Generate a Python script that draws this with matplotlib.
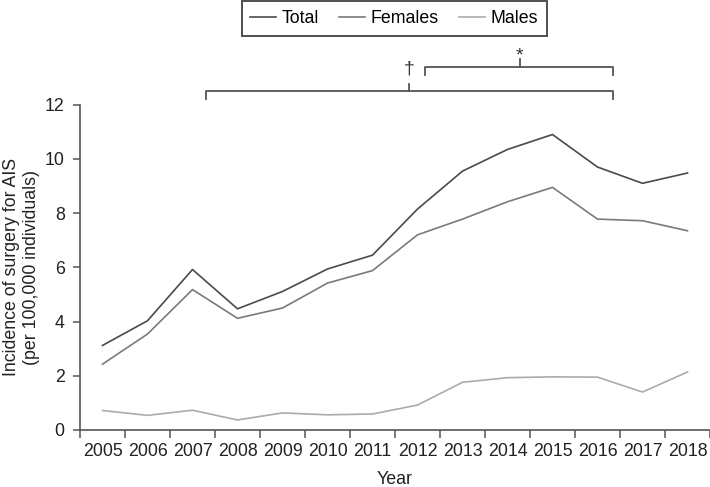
import numpy as np
import matplotlib.pyplot as plt
from matplotlib.lines import Line2D

plt.rcParams['font.family'] = ['Liberation Sans', 'DejaVu Sans']

# data
years = [2005, 2006, 2007, 2008, 2009, 2010, 2011, 2012, 2013, 2014, 2015, 2016, 2017, 2018]
total = [3.12, 4.03, 5.92, 4.47, 5.11, 5.94, 6.45, 8.15, 9.55, 10.35, 10.9, 9.7, 9.1, 9.48]
females = [2.43, 3.54, 5.18, 4.12, 4.5, 5.42, 5.88, 7.2, 7.78, 8.42, 8.95, 7.78, 7.72, 7.35]
males = [0.72, 0.54, 0.73, 0.37, 0.63, 0.56, 0.59, 0.92, 1.76, 1.93, 1.96, 1.95, 1.4, 2.14]

c_total = '#4a4a4a'
c_fem = '#7a7a7a'
c_male = '#ababab'
c_axis = '#555555'
c_text = '#222222'
fs = 12.8

fig = plt.figure(figsize=(7.1, 4.87), dpi=100)
ax = fig.add_axes([80/710, 57/487, 630/710, 325.3/487])

ax.plot(years, total, color=c_total, lw=1.2)
ax.plot(years, females, color=c_fem, lw=1.2)
ax.plot(years, males, color=c_male, lw=1.2)

ax.set_xlim(2004.5, 2018.5)
ax.set_ylim(0, 12)
ax.set_yticks(range(0, 13, 2))
ax.set_xticks(np.arange(2004.5, 2019, 1))
ax.set_xticklabels([])
ax.set_xticks(years, minor=True)
ax.set_xticklabels([str(y) for y in years], minor=True)
ax.tick_params(axis='x', which='minor', length=0, pad=9, labelsize=fs, colors=c_text)
ax.tick_params(axis='x', which='major', length=6, width=1.1, color=c_axis)
ax.tick_params(axis='y', length=5, width=1.1, color=c_axis, labelsize=fs, labelcolor=c_text, pad=6)
for s in ['top', 'right']:
    ax.spines[s].set_visible(False)
for s in ['left', 'bottom']:
    ax.spines[s].set_color(c_axis)
    ax.spines[s].set_linewidth(1.2)

ax.set_xlabel('Year', fontsize=fs, color=c_text)
ax.xaxis.set_label_coords(0.5, -0.125)
ax.set_ylabel('Incidence of surgery for AIS\n(per 100,000 individuals)', fontsize=fs,
              color=c_text, linespacing=1.25)
ax.yaxis.set_label_coords(-0.093, 0.5)
ax.yaxis.label.set_va('center')

# significance brackets (outside the axes)
def bracket(x0, x1, y, drop, xm, rise, sym, ty, sfs):
    kw = dict(color=c_axis, lw=1.3, clip_on=False)
    ax.plot([x0, x0, x1, x1], [y - drop, y, y, y - drop], **kw)
    ax.plot([xm, xm], [y, y + rise], **kw)
    ax.text(xm, ty, sym, ha='center', va='center', fontsize=sfs, color='#333333', clip_on=False)

bracket(2007.31, 2016.35, 12.5, 0.3, 2011.82, 0.28, '\u2020', 13.3, 14)
bracket(2012.17, 2016.35, 13.4, 0.3, 2014.27, 0.27, '*', 13.8, 14)

handles = [Line2D([], [], color=c_total, lw=1.2),
           Line2D([], [], color=c_fem, lw=1.2),
           Line2D([], [], color=c_male, lw=1.2)]
leg = fig.legend(handles, ['Total', 'Females', 'Males'], loc='upper center',
                 bbox_to_anchor=(394/710, 1 - 1/487), ncol=3, fontsize=fs,
                 frameon=True, fancybox=False, edgecolor=c_text,
                 handlelength=1.45, handletextpad=0.3, columnspacing=1.15,
                 borderpad=0.5, borderaxespad=0.0)
leg.get_frame().set_linewidth(1.4)

fig.savefig('out.png', dpi=100)
